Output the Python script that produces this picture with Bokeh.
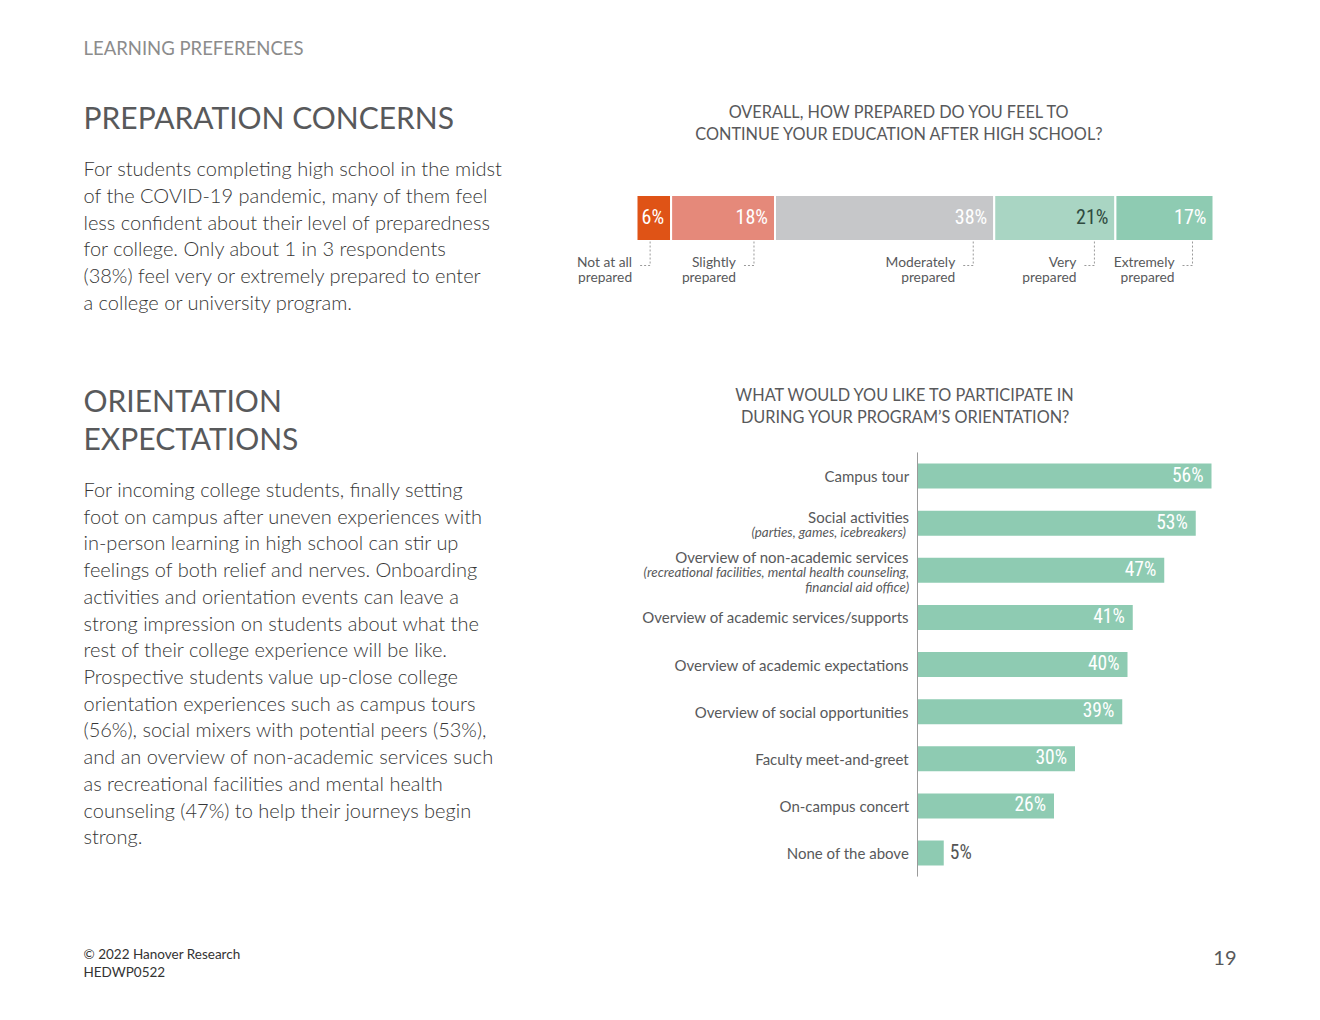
from bokeh.plotting import figure
from bokeh.models import Range1d, ColumnDataSource
from bokeh.core.properties import value
from bokeh.embed import file_html
from bokeh.resources import INLINE

# ---------------- data ----------------
prep_levels = ["Not at all\nprepared", "Slightly\nprepared", "Moderately\nprepared",
               "Very\nprepared", "Extremely\nprepared"]
prep_values = [6, 18, 38, 21, 17]
prep_colors = ["#DF5316", "#E5897A", "#C6C7C9", "#A9D5C3", "#8ECBB2"]
prep_text_colors = ["#FFFFFF", "#FFFFFF", "#FFFFFF", "#2F4A3F", "#FFFFFF"]

orient_main = ["Campus tour", "Social activities", "Overview of non-academic services",
               "Overview of academic services/supports", "Overview of academic expectations",
               "Overview of social opportunities", "Faculty meet-and-greet",
               "On-campus concert", "None of the above"]
orient_sub = ["", "(parties,  games, icebreakers)",
              "(recreational facilities, mental health counseling,\nfinancial aid office)",
              "", "", "", "", "", ""]
orient_values = [56, 53, 47, 41, 40, 39, 30, 26, 5]

body1 = ["For students completing high school in the midst",
         "of the COVID-19 pandemic, many of them feel",
         "less confident about their level of preparedness",
         "for college. Only about 1 in 3 respondents",
         "(38%) feel very or extremely prepared to enter",
         "a college or university program."]
body2 = ["For incoming college students, finally setting",
         "foot on campus after uneven experiences with",
         "in-person learning in high school can stir up",
         "feelings of both relief and nerves. Onboarding",
         "activities and orientation events can leave a",
         "strong impression on students about what the",
         "rest of their college experience will be like.",
         "Prospective students value up-close college",
         "orientation experiences such as campus tours",
         "(56%), social mixers with potential peers (53%),",
         "and an overview of non-academic services such",
         "as recreational facilities and mental health",
         "counseling (47%) to help their journeys begin",
         "strong."]

# ---------------- canvas ----------------
W, H = 1304, 1004
X0, Y0 = 0, 0
p = figure(width=W, height=H, output_backend="svg", toolbar_location=None,
           x_range=Range1d(X0, X0 + W), y_range=Range1d(Y0 + H, Y0),
           min_border=0, outline_line_color=None, background_fill_color="white",
           border_fill_color="white")
p.axis.visible = False
p.grid.visible = False

LATO = value("Lato")
LIGHT = value("Lato Light, Lato")
COND = value("Roboto Condensed, Liberation Sans Narrow, DejaVu Sans Condensed, Roboto")
HEAD = "#58595B"
LBL = "#58595B"

# ---------------- left column text ----------------
p.text(x=[83], y=[47], text=["LEARNING PREFERENCES"], text_font=LATO, text_font_size="18.5px",
       text_color="#8C8C8C", text_baseline="middle")
p.text(x=[83], y=[116], text=["PREPARATION CONCERNS"], text_font=LATO, text_font_size="30px",
       text_color=HEAD, text_baseline="middle")
p.text(x=[83, 83], y=[399, 437], text=["ORIENTATION", "EXPECTATIONS"], text_font=LATO,
       text_font_size="30px", text_color=HEAD, text_baseline="middle")
p.text(x=[83] * len(body1), y=[167.5 + 26.8 * i for i in range(len(body1))], text=body1,
       text_font=LIGHT, text_font_size="20px", text_color="#363636", text_baseline="middle")
p.text(x=[83] * len(body2), y=[488.5 + 26.72 * i for i in range(len(body2))], text=body2,
       text_font=LIGHT, text_font_size="20px", text_color="#363636", text_baseline="middle")
p.text(x=[83, 83], y=[953.5, 971.5], text=["\u00a9 2022 Hanover Research", "HEDWP0522"],
       text_font=LATO, text_font_size="13.5px", text_color="#333333", text_baseline="middle")
p.text(x=[1236], y=[957.5], text=["19"], text_font=LATO, text_font_size="20px",
       text_color=HEAD, text_baseline="middle", text_align="right")

# ---------------- top chart: stacked bar ----------------
p.text(x=[899, 899], y=[110.5, 132.5],
       text=["OVERALL, HOW PREPARED DO YOU FEEL TO", "CONTINUE YOUR EDUCATION AFTER HIGH SCHOOL?"],
       text_font=LATO, text_font_size="16.3px", text_color=HEAD, text_baseline="middle",
       text_align="center")

SPX0, SPX1 = 636, 1213
s_scale = (SPX1 - SPX0) / 100.0
s_start = -(SPX0 - X0) / s_scale
p.extra_x_ranges = {"stack": Range1d(s_start, s_start + W / s_scale)}

rights, lefts = [], []
acc = 0
for v in prep_values:
    lefts.append(acc)
    acc += v
    rights.append(acc)
ssrc = ColumnDataSource(dict(left=lefts, right=rights, color=prep_colors,
                             tcolor=prep_text_colors,
                             label=[f"{v}%" for v in prep_values],
                             lead=[r - 21 / s_scale for r in rights],
                             lead2=[r - 31 / s_scale for r in rights],
                             l1=[s.split("\n")[0] for s in prep_levels],
                             l2=[s.split("\n")[1] for s in prep_levels]))
p.hbar(y=217.5, height=46, left="left", right="right", fill_color="color",
       line_color="white", line_width=2, source=ssrc, x_range_name="stack")
p.text(x="right", y=216.5, text="label", x_offset=-7, text_align="right",
       text_baseline="middle", text_font=COND, text_font_size="20px",
       text_color="tcolor", source=ssrc, x_range_name="stack")
p.segment(x0="lead", y0=241, x1="lead", y1=265, line_color="#9A9A9A", line_dash="2 2",
          line_width=1, source=ssrc, x_range_name="stack")
p.segment(x0="lead", y0=265, x1="lead2", y1=265, line_color="#9A9A9A", line_dash="2 2",
          line_width=1, source=ssrc, x_range_name="stack")
p.text(x="lead", y=260.5, text="l1", x_offset=-18, text_align="right", text_baseline="middle",
       text_font=LATO, text_font_size="13.8px", text_color=LBL, source=ssrc, x_range_name="stack")
p.text(x="lead", y=275.5, text="l2", x_offset=-18, text_align="right", text_baseline="middle",
       text_font=LATO, text_font_size="13.8px", text_color=LBL, source=ssrc, x_range_name="stack")

# ---------------- bottom chart: horizontal bars ----------------
p.text(x=[905, 905], y=[393.5, 415.5],
       text=["WHAT WOULD YOU LIKE TO PARTICIPATE IN", "DURING YOUR PROGRAM\u2019S ORIENTATION?"],
       text_font=LATO, text_font_size="16.3px", text_color=HEAD, text_baseline="middle",
       text_align="center")

BPX0 = 917
b_scale = 5.25
b_start = -(BPX0 - X0) / b_scale
p.extra_x_ranges["hbar"] = Range1d(b_start, b_start + W / b_scale)

ROW0, STEP = 475.5, 47.125
y_bottom = (Y0 + H - ROW0) / STEP
y_top = (Y0 - ROW0) / STEP
p.extra_y_ranges = {"rows": Range1d(y_bottom, y_top)}

n = len(orient_values)
idx = list(range(n))
inside = [v >= 10 for v in orient_values]
bsrc = ColumnDataSource(dict(y=idx, v=orient_values,
                             label=[f"{v}%" for v in orient_values]))
p.hbar(y="y", height=25 / STEP, left=0, right="v", fill_color="#8ECBB2", line_color=None,
       source=bsrc, x_range_name="hbar", y_range_name="rows")

in_src = ColumnDataSource(dict(y=[i - 1 / STEP for i in idx if inside[i]],
                               v=[orient_values[i] for i in idx if inside[i]],
                               label=[f"{orient_values[i]}%" for i in idx if inside[i]]))
out_src = ColumnDataSource(dict(y=[i - 1 / STEP for i in idx if not inside[i]],
                                v=[orient_values[i] for i in idx if not inside[i]],
                                label=[f"{orient_values[i]}%" for i in idx if not inside[i]]))
p.text(x="v", y="y", text="label", x_offset=-8, text_align="right", text_baseline="middle",
       text_font=COND, text_font_size="19.5px", text_color="white", source=in_src,
       x_range_name="hbar", y_range_name="rows")
p.text(x="v", y="y", text="label", x_offset=6, text_align="left", text_baseline="middle",
       text_font=COND, text_font_size="19.5px", text_color="#555555", source=out_src,
       x_range_name="hbar", y_range_name="rows")

# category labels
main_y, sub_y, sub_t = [], [], []
for i in idx:
    subs = orient_sub[i].split("\n") if orient_sub[i] else []
    off = 0 if not subs else (-len(subs) * 7.5 + 1.5)
    main_y.append(i + off / STEP)
    for j, s in enumerate(subs):
        sub_y.append(i + (off + 15 * (j + 1)) / STEP)
        sub_t.append(s)
p.text(x=[-1.6] * n, y=main_y, text=orient_main, text_align="right", text_baseline="middle",
       text_font=LATO, text_font_size="15px", text_color=LBL,
       x_range_name="hbar", y_range_name="rows")
p.text(x=[-1.6] * len(sub_t), y=sub_y, text=sub_t, text_align="right", text_baseline="middle",
       text_font=LATO, text_font_style="italic", text_font_size="13.4px", text_color=LBL,
       x_range_name="hbar", y_range_name="rows")

# axis line
p.segment(x0=[0], y0=[-0.5], x1=[0], y1=[n - 0.5], line_color="#9A9A9A", line_width=1,
          x_range_name="hbar", y_range_name="rows")

open("out.html", "w").write(file_html(p, INLINE))
